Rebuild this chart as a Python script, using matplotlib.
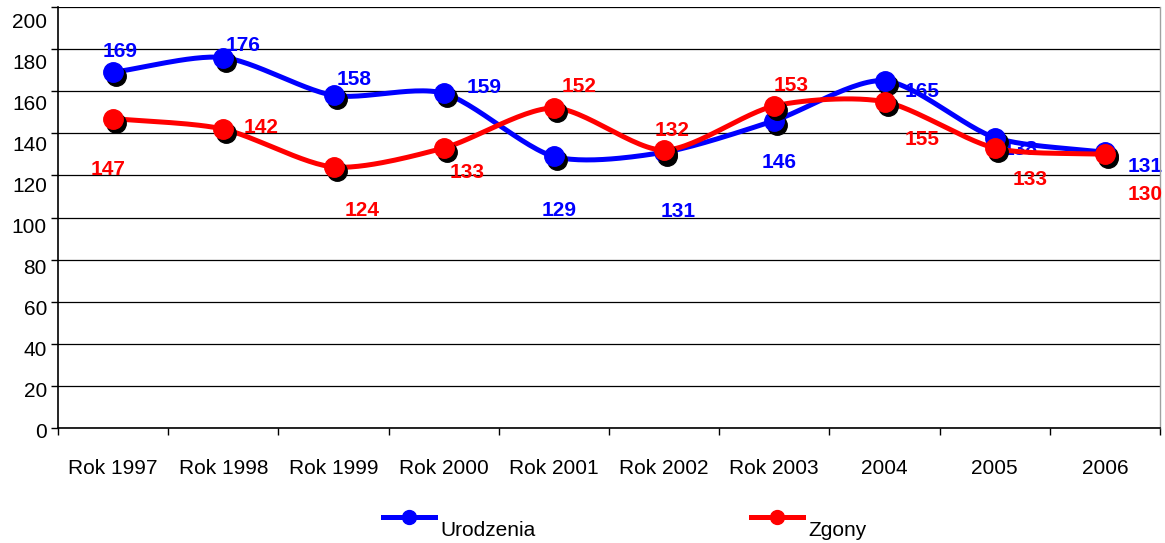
#%%
import matplotlib
matplotlib.use('Agg')
import matplotlib.pyplot as plt
import matplotlib.transforms as mtransforms
from matplotlib.lines import Line2D
import numpy as np

plt.rcParams['font.family'] = ['Liberation Sans', 'DejaVu Sans']

#%%
categories = ['Rok 1997', 'Rok 1998', 'Rok 1999', 'Rok 2000', 'Rok 2001',
              'Rok 2002', 'Rok 2003', '2004', '2005', '2006']
urodzenia = [169, 176, 158, 159, 129, 131, 146, 165, 138, 131]
zgony = [147, 142, 124, 133, 152, 132, 153, 155, 133, 130]
yticks = list(range(0, 201, 20))

# label offsets in pixels (dx, dy), hand-placed like in the source chart
blue_offsets = [(7, 21), (20, 12), (21, 16), (40, 6), (5, -54),
                (14, -59), (5, -42), (38, -11), (25, -12), (40, -14)]
red_offsets = [(-5, -51), (38, 2), (29, -44), (23, -24), (25, 22),
               (8, 20), (17, 20), (38, -38), (35, -31), (40, -40)]

BLUE = '#0000ff'
RED = '#ff0000'


#%%
def smooth(x, y, n=30):
    """Catmull-Rom spline through the points (Excel-like smoothed line)."""
    x = np.asarray(x, float)
    y = np.asarray(y, float)
    px = np.concatenate([[2 * x[0] - x[1]], x, [2 * x[-1] - x[-2]]])
    py = np.concatenate([[2 * y[0] - y[1]], y, [2 * y[-1] - y[-2]]])
    xs, ys = [], []
    t = np.linspace(0, 1, n)
    for i in range(1, len(px) - 2):
        for p, out in ((px, xs), (py, ys)):
            p0, p1, p2, p3 = p[i - 1], p[i], p[i + 1], p[i + 2]
            m1 = (p2 - p0) / 2 * 0.8
            m2 = (p3 - p1) / 2 * 0.8
            h00 = 2 * t**3 - 3 * t**2 + 1
            h10 = t**3 - 2 * t**2 + t
            h01 = -2 * t**3 + 3 * t**2
            h11 = t**3 - t**2
            out.append(h00 * p1 + h10 * m1 + h01 * p2 + h11 * m2)
    return np.concatenate(xs), np.concatenate(ys)


#%%
fig = plt.figure(figsize=(11.65, 5.43), dpi=100)
ax = fig.add_axes([58 / 1165, 115 / 543, 1102 / 1165, 421 / 543])

x = np.arange(len(categories))
shadow = mtransforms.offset_copy(ax.transData, fig=fig, x=3, y=-4, units='dots')

for vals, color, offsets, z in ((urodzenia, BLUE, blue_offsets, 3),
                                (zgony, RED, red_offsets, 5)):
    sx, sy = smooth(x, vals)
    ax.plot(sx, sy, color=color, lw=3.6, zorder=z, solid_capstyle='round')
    ax.plot(x, vals, 'o', color='black', ms=14, transform=shadow, zorder=z)
    ax.plot(x, vals, 'o', color=color, ms=14, zorder=z + 0.1)
    for xi, v, (dx, dy) in zip(x, vals, offsets):
        ax.annotate(str(v), (xi, v), xytext=(dx, dy), textcoords='offset pixels',
                    ha='center', va='center', fontsize=15, fontweight='bold',
                    color=color, zorder=z - 0.5, annotation_clip=False,
                    clip_on=False)

ax.set_xlim(-0.5, len(categories) - 0.5)
ax.set_ylim(0, 200)
ax.set_yticks(yticks)
ax.yaxis.grid(True, color='black', lw=0.9)
ax.set_axisbelow(True)

ax.set_xticks(x)
ax.set_xticklabels(categories)
ax.set_xticks(np.arange(-0.5, len(categories)), minor=True)
ax.tick_params(axis='x', which='major', length=0, pad=22, labelsize=15)
ax.tick_params(axis='x', which='minor', length=5, width=1, direction='out')
ax.tick_params(axis='y', length=5, width=1, direction='out', labelsize=15, pad=3)

# the source renders y labels slightly below their gridlines (more at the top)
for tick, v in zip(ax.yaxis.get_major_ticks(), yticks):
    lab = tick.label1
    lab.set_transform(lab.get_transform() + mtransforms.Affine2D().translate(
        0, -(2.5 + v / 200 * 11.5)))

for s in ('left', 'bottom'):
    ax.spines[s].set_color('black')
    ax.spines[s].set_linewidth(1.2)
ax.spines['top'].set_visible(False)
ax.spines['right'].set_color('#a0a0a0')
ax.spines['right'].set_linewidth(1)

# legend drawn by hand: line + marker, label sitting a bit lower
for x0, color, label in ((383, BLUE, 'Urodzenia'), (751, RED, 'Zgony')):
    yl = 1 - 517 / 543
    fig.add_artist(Line2D([x0 / 1165, (x0 + 52) / 1165], [yl, yl],
                          color=color, lw=3.6, transform=fig.transFigure))
    fig.add_artist(Line2D([(x0 + 26) / 1165], [yl], marker='o', ms=10,
                          color=color, transform=fig.transFigure))
    fig.text((x0 + 57) / 1165, 1 - 530 / 543, label, fontsize=15,
             ha='left', va='center')

fig.savefig('out.png', dpi=100)
